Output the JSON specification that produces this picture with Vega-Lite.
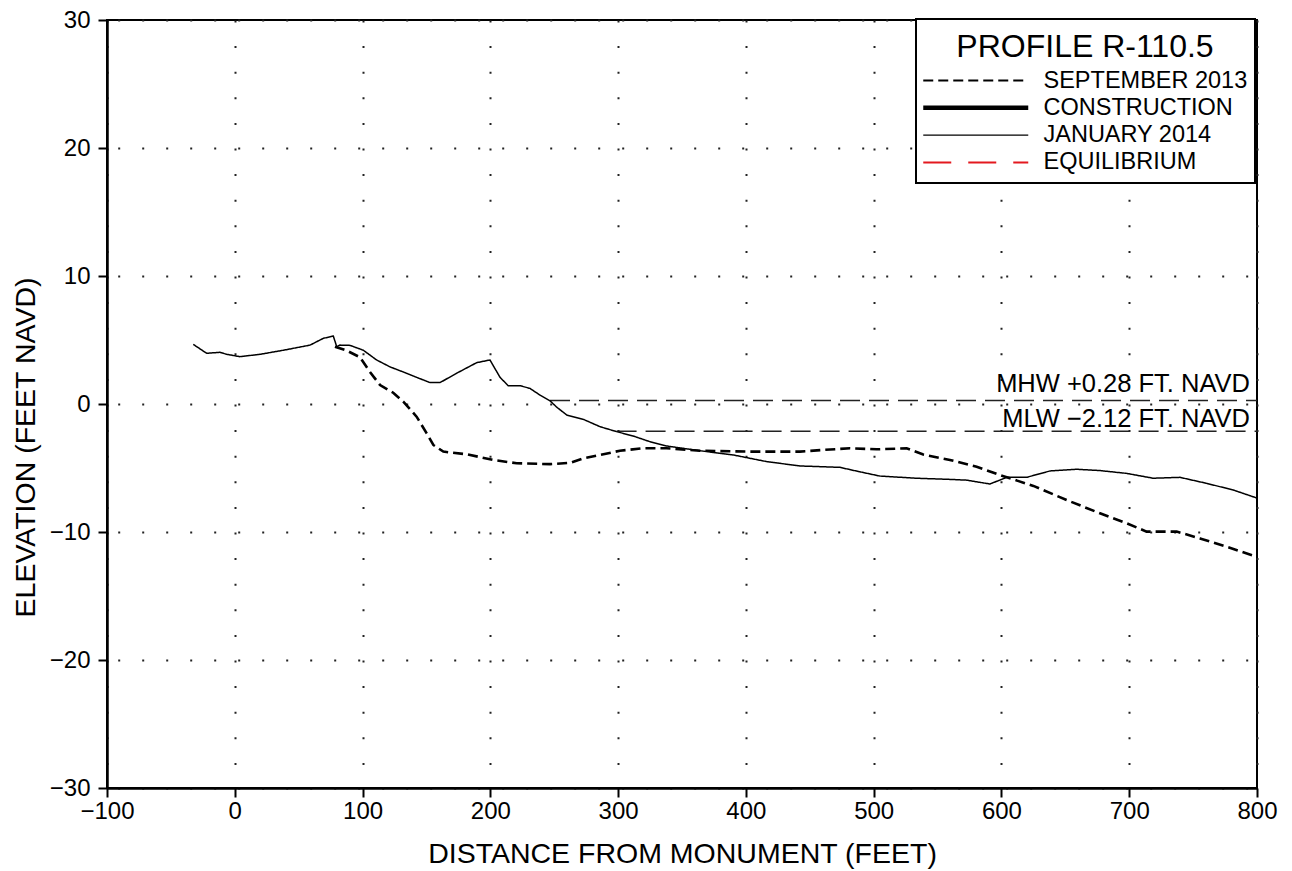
{
  "$schema": "https://vega.github.io/schema/vega-lite/v6.json",
  "width": 1150,
  "height": 768,
  "autosize": {"type": "none"},
  "padding": {"left": 107, "top": 20, "right": 35, "bottom": 83},
  "background": "white",
  "datasets": {
    "profiles": [
      {"series": "JANUARY 2014", "x": -32.5, "y": 4.66},
      {"series": "JANUARY 2014", "x": -22, "y": 3.96},
      {"series": "JANUARY 2014", "x": -11.6, "y": 4.04},
      {"series": "JANUARY 2014", "x": -6.3, "y": 3.88},
      {"series": "JANUARY 2014", "x": 4, "y": 3.7},
      {"series": "JANUARY 2014", "x": 19.7, "y": 3.88},
      {"series": "JANUARY 2014", "x": 38, "y": 4.2},
      {"series": "JANUARY 2014", "x": 58.9, "y": 4.6},
      {"series": "JANUARY 2014", "x": 69.3, "y": 5.13},
      {"series": "JANUARY 2014", "x": 77.1, "y": 5.31},
      {"series": "JANUARY 2014", "x": 79.8, "y": 4.48},
      {"series": "JANUARY 2014", "x": 82.3, "y": 4.6},
      {"series": "JANUARY 2014", "x": 90.2, "y": 4.58},
      {"series": "JANUARY 2014", "x": 100.6, "y": 4.2},
      {"series": "JANUARY 2014", "x": 111, "y": 3.44},
      {"series": "JANUARY 2014", "x": 121.5, "y": 2.9},
      {"series": "JANUARY 2014", "x": 131.9, "y": 2.5},
      {"series": "JANUARY 2014", "x": 142.4, "y": 2.08},
      {"series": "JANUARY 2014", "x": 152.8, "y": 1.67},
      {"series": "JANUARY 2014", "x": 160.6, "y": 1.67},
      {"series": "JANUARY 2014", "x": 173.6, "y": 2.4},
      {"series": "JANUARY 2014", "x": 189.3, "y": 3.23},
      {"series": "JANUARY 2014", "x": 199.7, "y": 3.44},
      {"series": "JANUARY 2014", "x": 207.6, "y": 2.08},
      {"series": "JANUARY 2014", "x": 214, "y": 1.43},
      {"series": "JANUARY 2014", "x": 223.2, "y": 1.43},
      {"series": "JANUARY 2014", "x": 231, "y": 1.22},
      {"series": "JANUARY 2014", "x": 238.8, "y": 0.7},
      {"series": "JANUARY 2014", "x": 246.7, "y": 0.25},
      {"series": "JANUARY 2014", "x": 252, "y": -0.25},
      {"series": "JANUARY 2014", "x": 259.8, "y": -0.86},
      {"series": "JANUARY 2014", "x": 272.8, "y": -1.2},
      {"series": "JANUARY 2014", "x": 285.8, "y": -1.77},
      {"series": "JANUARY 2014", "x": 298.8, "y": -2.16},
      {"series": "JANUARY 2014", "x": 311.8, "y": -2.5},
      {"series": "JANUARY 2014", "x": 324.8, "y": -2.94},
      {"series": "JANUARY 2014", "x": 337.9, "y": -3.28},
      {"series": "JANUARY 2014", "x": 364, "y": -3.65},
      {"series": "JANUARY 2014", "x": 390.1, "y": -3.98},
      {"series": "JANUARY 2014", "x": 416.2, "y": -4.5},
      {"series": "JANUARY 2014", "x": 442.3, "y": -4.84},
      {"series": "JANUARY 2014", "x": 473.6, "y": -4.95},
      {"series": "JANUARY 2014", "x": 489.3, "y": -5.3},
      {"series": "JANUARY 2014", "x": 504.9, "y": -5.63},
      {"series": "JANUARY 2014", "x": 533.6, "y": -5.8},
      {"series": "JANUARY 2014", "x": 559.7, "y": -5.89},
      {"series": "JANUARY 2014", "x": 572.8, "y": -5.95},
      {"series": "JANUARY 2014", "x": 591, "y": -6.25},
      {"series": "JANUARY 2014", "x": 604.1, "y": -5.73},
      {"series": "JANUARY 2014", "x": 619.7, "y": -5.73},
      {"series": "JANUARY 2014", "x": 638, "y": -5.23},
      {"series": "JANUARY 2014", "x": 658.9, "y": -5.1},
      {"series": "JANUARY 2014", "x": 677, "y": -5.2},
      {"series": "JANUARY 2014", "x": 697.9, "y": -5.42},
      {"series": "JANUARY 2014", "x": 718.8, "y": -5.8},
      {"series": "JANUARY 2014", "x": 739.7, "y": -5.73},
      {"series": "JANUARY 2014", "x": 760.6, "y": -6.2},
      {"series": "JANUARY 2014", "x": 781.4, "y": -6.72},
      {"series": "JANUARY 2014", "x": 800, "y": -7.35},
      {"series": "SEPTEMBER 2013", "x": 78.4, "y": 4.48},
      {"series": "SEPTEMBER 2013", "x": 87.6, "y": 4.17},
      {"series": "SEPTEMBER 2013", "x": 98, "y": 3.65},
      {"series": "SEPTEMBER 2013", "x": 105.8, "y": 2.5},
      {"series": "SEPTEMBER 2013", "x": 113.7, "y": 1.48},
      {"series": "SEPTEMBER 2013", "x": 124, "y": 0.88},
      {"series": "SEPTEMBER 2013", "x": 131.9, "y": 0.18},
      {"series": "SEPTEMBER 2013", "x": 142.3, "y": -0.99},
      {"series": "SEPTEMBER 2013", "x": 150.2, "y": -2.29},
      {"series": "SEPTEMBER 2013", "x": 155.4, "y": -3.2},
      {"series": "SEPTEMBER 2013", "x": 163.2, "y": -3.72},
      {"series": "SEPTEMBER 2013", "x": 181.5, "y": -3.93},
      {"series": "SEPTEMBER 2013", "x": 202.3, "y": -4.37},
      {"series": "SEPTEMBER 2013", "x": 220.6, "y": -4.63},
      {"series": "SEPTEMBER 2013", "x": 246.7, "y": -4.7},
      {"series": "SEPTEMBER 2013", "x": 262.3, "y": -4.6},
      {"series": "SEPTEMBER 2013", "x": 272.8, "y": -4.24},
      {"series": "SEPTEMBER 2013", "x": 285.8, "y": -3.98},
      {"series": "SEPTEMBER 2013", "x": 301.4, "y": -3.65},
      {"series": "SEPTEMBER 2013", "x": 319.7, "y": -3.46},
      {"series": "SEPTEMBER 2013", "x": 337.9, "y": -3.46},
      {"series": "SEPTEMBER 2013", "x": 364, "y": -3.65},
      {"series": "SEPTEMBER 2013", "x": 403.1, "y": -3.72},
      {"series": "SEPTEMBER 2013", "x": 442.3, "y": -3.72},
      {"series": "SEPTEMBER 2013", "x": 460.5, "y": -3.59},
      {"series": "SEPTEMBER 2013", "x": 481.5, "y": -3.46},
      {"series": "SEPTEMBER 2013", "x": 502.3, "y": -3.54},
      {"series": "SEPTEMBER 2013", "x": 525.8, "y": -3.46},
      {"series": "SEPTEMBER 2013", "x": 538.8, "y": -3.95},
      {"series": "SEPTEMBER 2013", "x": 559.7, "y": -4.37},
      {"series": "SEPTEMBER 2013", "x": 580.6, "y": -4.9},
      {"series": "SEPTEMBER 2013", "x": 598.9, "y": -5.55},
      {"series": "SEPTEMBER 2013", "x": 625, "y": -6.4},
      {"series": "SEPTEMBER 2013", "x": 651, "y": -7.5},
      {"series": "SEPTEMBER 2013", "x": 677.1, "y": -8.54},
      {"series": "SEPTEMBER 2013", "x": 698, "y": -9.32},
      {"series": "SEPTEMBER 2013", "x": 713.6, "y": -9.97},
      {"series": "SEPTEMBER 2013", "x": 737.1, "y": -9.97},
      {"series": "SEPTEMBER 2013", "x": 755.4, "y": -10.5},
      {"series": "SEPTEMBER 2013", "x": 776.2, "y": -11.15},
      {"series": "SEPTEMBER 2013", "x": 800, "y": -11.95}
    ],
    "tides": [
      {"level": "MHW", "x": 246.7, "y": 0.28, "label": "MHW +0.28 FT. NAVD"},
      {"level": "MHW", "x": 800, "y": 0.28, "label": "MHW +0.28 FT. NAVD"},
      {"level": "MLW", "x": 298.8, "y": -2.12, "label": "MLW −2.12 FT. NAVD"},
      {"level": "MLW", "x": 800, "y": -2.12, "label": "MLW −2.12 FT. NAVD"}
    ]
  },
  "layer": [
    {
      "mark": {"type": "rule", "stroke": "black", "strokeWidth": 1.5},
      "encoding": {"y": {"datum": 0, "type": "quantitative"}}
    },
    {
      "data": {"name": "tides"},
      "mark": {"type": "line", "stroke": "#222222", "strokeWidth": 1.5, "strokeDash": [20, 9]},
      "encoding": {
        "x": {"field": "x", "type": "quantitative"},
        "y": {"field": "y", "type": "quantitative"},
        "detail": {"field": "level"}
      }
    },
    {
      "data": {"name": "tides"},
      "transform": [{"filter": "datum.level === 'MHW' && datum.x === 800"}],
      "mark": {"type": "text", "align": "right", "baseline": "alphabetic", "dx": -7, "dy": -8, "font": "Liberation Sans", "fontSize": 25.5, "fill": "black"},
      "encoding": {
        "x": {"field": "x", "type": "quantitative"},
        "y": {"field": "y", "type": "quantitative"},
        "text": {"field": "label"}
      }
    },
    {
      "data": {"name": "tides"},
      "transform": [{"filter": "datum.level === 'MLW' && datum.x === 800"}],
      "mark": {"type": "text", "align": "right", "baseline": "alphabetic", "dx": -7, "dy": -4, "font": "Liberation Sans", "fontSize": 25.5, "fill": "black"},
      "encoding": {
        "x": {"field": "x", "type": "quantitative"},
        "y": {"field": "y", "type": "quantitative"},
        "text": {"field": "label"}
      }
    },
    {
      "mark": {"type": "text", "align": "center", "baseline": "middle", "font": "Liberation Sans", "fontSize": 29, "fill": "black", "text": "NO FILL"},
      "encoding": {
        "x": {"datum": 304, "type": "quantitative"},
        "y": {"datum": 13.8, "type": "quantitative"}
      }
    },
    {
      "data": {"name": "profiles"},
      "transform": [{"filter": "datum.series === 'JANUARY 2014'"}],
      "mark": {"type": "line", "strokeWidth": 1.5},
      "encoding": {
        "x": {"field": "x", "type": "quantitative"},
        "y": {"field": "y", "type": "quantitative"},
        "color": {
          "field": "series",
          "type": "nominal",
          "scale": {
            "domain": ["SEPTEMBER 2013", "CONSTRUCTION", "JANUARY 2014", "EQUILIBRIUM"],
            "range": ["black", "black", "black", "#e3191f"]
          },
          "legend": {
            "title": "PROFILE R-110.5",
            "encode": {
              "symbols": {
                "update": {
                  "strokeWidth": {"signal": "datum.value === 'CONSTRUCTION' ? 4.5 : datum.value === 'SEPTEMBER 2013' ? 2 : datum.value === 'EQUILIBRIUM' ? 2 : 1.3"}
                }
              }
            },
            "title": "PROFILE R-110.5"
          }
        },
        "strokeDash": {
          "field": "series",
          "type": "nominal",
          "scale": {
            "domain": ["SEPTEMBER 2013", "CONSTRUCTION", "JANUARY 2014", "EQUILIBRIUM"],
            "range": [[10, 5], [1, 0], [1, 0], [28, 17]]
          },
          "legend": {"title": "PROFILE R-110.5"}
        }
      }
    },
    {
      "data": {"name": "profiles"},
      "transform": [{"filter": "datum.series === 'SEPTEMBER 2013'"}],
      "mark": {"type": "line", "strokeWidth": 2.6},
      "encoding": {
        "x": {"field": "x", "type": "quantitative"},
        "y": {"field": "y", "type": "quantitative"},
        "color": {"field": "series", "type": "nominal"},
        "strokeDash": {"field": "series", "type": "nominal"}
      }
    }
  ],
  "encoding": {
    "x": {
      "type": "quantitative",
      "scale": {"domain": [-100, 800], "nice": false, "zero": false},
      "axis": {
        "title": "DISTANCE FROM MONUMENT (FEET)",
        "values": [-100, 0, 100, 200, 300, 400, 500, 600, 700, 800],
        "gridDash": [2, 23.6],
        "titleY": 74,
        "titleBaseline": "alphabetic",
        "labelPadding": 2
      }
    },
    "y": {
      "type": "quantitative",
      "scale": {"domain": [-30, 30], "nice": false, "zero": false},
      "axis": {
        "title": "ELEVATION (FEET NAVD)",
        "values": [-30, -20, -10, 0, 10, 20, 30],
        "gridDash": [2, 22],
        "gridDashOffset": 13.3,
        "titleX": -73,
        "titleY": 427,
        "titleAngle": -90,
        "titleAlign": "center",
        "titleBaseline": "alphabetic",
        "labelPadding": 8
      }
    }
  },
  "config": {
    "font": "Liberation Sans",
    "view": {"stroke": "black", "strokeWidth": 2},
    "axis": {
      "grid": true,
      "gridColor": "#222222",
      "gridWidth": 2,
      "gridOpacity": 1,
      "domainColor": "black",
      "domainWidth": 2.5,
      "tickColor": "black",
      "tickWidth": 2,
      "tickSize": 9,
      "labelFont": "Liberation Sans",
      "labelFontSize": 24,
      "labelColor": "black",
      "titleFont": "Liberation Sans",
      "titleFontSize": 28.5,
      "titleFontWeight": "normal",
      "titleColor": "black",
      "labelOverlap": false,
      "labelFlush": false
    },
    "legend": {
      "orient": "none",
      "legendX": 809,
      "legendY": -1,
      "padding": 7,
      "fillColor": "white",
      "strokeColor": "black",
      "strokeWidth": 2,
      "titleFont": "Liberation Sans",
      "titleFontSize": 32,
      "titleFontWeight": "normal",
      "titleColor": "black",
      "titleBaseline": "line-top",
      "titleLineHeight": 44,
      "titlePadding": 9,
      "titleLimit": 400,
      "titleAnchor": "middle",
      "labelFont": "Liberation Sans",
      "labelFontSize": 23.5,
      "labelColor": "black",
      "labelOffset": 56,
      "labelLimit": 400,
      "symbolType": "stroke",
      "symbolSize": 11025,
      "symbolOffset": 41,
      "symbolStrokeWidth": 2,
      "clipHeight": 27,
      "rowPadding": 0.3
    }
  }
}
